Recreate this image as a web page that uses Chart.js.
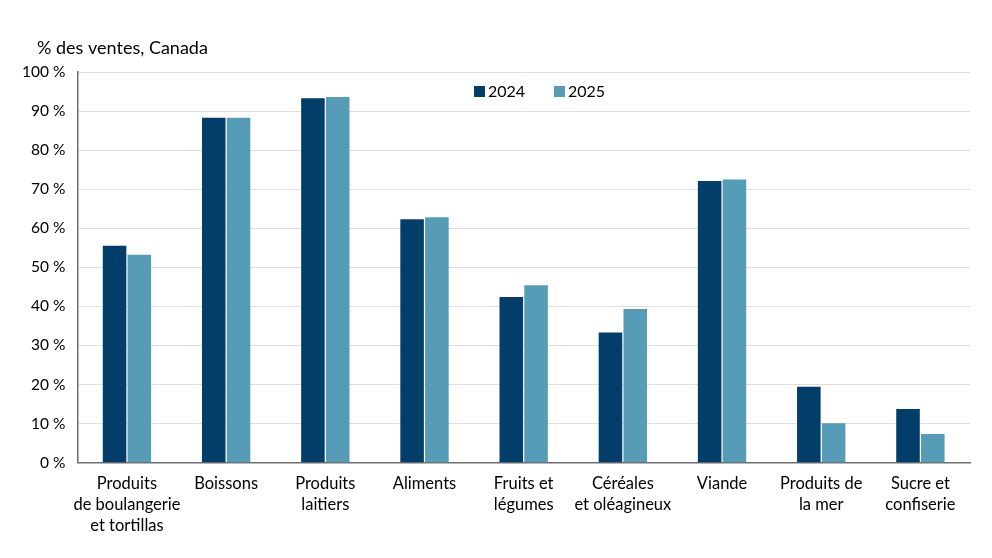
<!DOCTYPE html>
<html>
<head>
<meta charset="utf-8">
<script src="https://cdn.jsdelivr.net/npm/chart.js@4"></script>
<style>
  body { margin: 0; background: #fff; }
  #wrap { width: 992px; height: 558px; }
</style>
</head>
<body>
<div id="wrap"><canvas id="ventesChart"></canvas></div>
<script>
// Données
const categories = [
  ['Produits', 'de boulangerie', 'et tortillas'],
  'Boissons',
  ['Produits', 'laitiers'],
  'Aliments',
  ['Fruits et', 'légumes'],
  ['Céréales', 'et oléagineux'],
  'Viande',
  ['Produits de', 'la mer'],
  ['Sucre et', 'confiserie']
];
const ventes2024 = [55.5, 88.3, 93.3, 62.3, 42.4, 33.3, 72.1, 19.4, 13.7];
const ventes2025 = [53.2, 88.3, 93.6, 62.8, 45.4, 39.3, 72.5, 10.1, 7.3];
const seriesNames = ['2024', '2025'];
const yTicks = [0, 10, 20, 30, 40, 50, 60, 70, 80, 90, 100];

const FONT = 'Lato, "Noto Sans", sans-serif';
const colors = ['#023e69', '#569cb6'];

// titre + légende dessinés à la main dans le graphique
const extras = {
  id: 'extras',
  afterDraw(chart) {
    const c = chart.ctx;
    c.save();
    c.fillStyle = '#000';
    c.font = '18px ' + FONT;
    c.textBaseline = 'middle';
    c.textAlign = 'left';
    c.fillText('% des ventes, Canada', 37, 48);

    c.font = '16px ' + FONT;
    let x = 474;
    chart.data.datasets.forEach((ds, i) => {
      c.fillStyle = ds.backgroundColor;
      c.fillRect(x, 86, 11, 11);
      c.fillStyle = '#000';
      c.fillText(ds.label, x + 14, 92);
      x += 80;
    });
    c.restore();
  }
};

new Chart(document.getElementById('ventesChart'), {
  type: 'bar',
  data: {
    labels: categories,
    datasets: [
      { label: seriesNames[0], data: ventes2024, backgroundColor: colors[0] },
      { label: seriesNames[1], data: ventes2025, backgroundColor: colors[1] }
    ]
  },
  options: {
    responsive: true,
    maintainAspectRatio: false,
    animation: false,
    layout: { padding: { top: 72, right: 22, bottom: 12, left: 10 } },
    datasets: {
      bar: { categoryPercentage: 0.5, barPercentage: 0.95 }
    },
    plugins: {
      legend: { display: false },
      tooltip: { enabled: false }
    },
    scales: {
      x: {
        grid: { display: false, drawTicks: false },
        border: { color: '#6e6e6e', width: 1.5 },
        ticks: {
          color: '#000',
          font: { family: FONT, size: 16.5, lineHeight: 1.28 },
          padding: 10,
          maxRotation: 0,
          autoSkip: false
        }
      },
      y: {
        min: 0,
        max: 100,
        afterBuildTicks(axis) { axis.ticks = yTicks.map(v => ({ value: v })); },
        grid: { color: '#dedede', lineWidth: 1, drawTicks: false },
        border: { color: '#6e6e6e', width: 1.5 },
        ticks: {
          color: '#000',
          font: { family: FONT, size: 15.5 },
          padding: 12,
          callback: v => v + '\u00a0%'
        }
      }
    }
  },
  plugins: [extras]
});
</script>
</body>
</html>
